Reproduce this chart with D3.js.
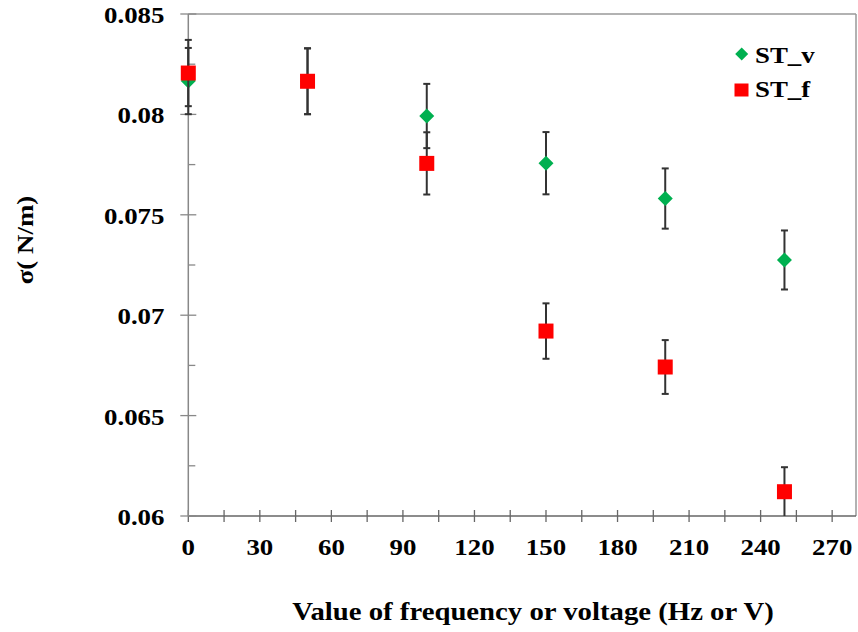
<!DOCTYPE html>
<html>
<head>
<meta charset="utf-8">
<script src="https://cdn.jsdelivr.net/npm/d3@7"></script>
<style>
  html, body { margin: 0; padding: 0; background: #fff; }
  svg { display: block; }
  text { font-family: "Liberation Serif", "Times New Roman", serif; font-weight: bold; fill: #000; }
</style>
</head>
<body>
<svg id="chart" width="858" height="632"></svg>
<script>
// ---- data ----
const xValues = [0, 50, 100, 150, 200, 250];
const stV = [0.08166, 0.08165, 0.07992, 0.07757, 0.07581, 0.07275];
const stVErr = [0.00165, 0.00164, 0.00160, 0.00155, 0.00150, 0.00147];
const stF = [0.08206, 0.08165, 0.07756, 0.06921, 0.06742, 0.06121];
const stFErr = [0.00165, 0.00164, 0.00155, 0.00138, 0.00134, 0.00122];
const seriesNames = ["ST_v", "ST_f"];
const xTickValues = [0, 30, 60, 90, 120, 150, 180, 210, 240, 270];
const xMinorTicks = [0, 15, 30, 45, 60, 75, 90, 105, 120, 135, 150, 165, 180, 195, 210, 225, 240, 255, 270];
const yTickValues = [0.06, 0.065, 0.07, 0.075, 0.08, 0.085];
const yTickLabels = ["0.06", "0.065", "0.07", "0.075", "0.08", "0.085"];
const yMinorTicks = [0.0625, 0.0675, 0.0725, 0.0775, 0.0825];
const xTitle = "Value of frequency or voltage (Hz or V)";
const yTitle = "σ( N/m)";

// ---- layout ----
const L = 188.3, R = 856, T = 14, B = 516;
const SX = 1.12; // horizontal text stretch
const FS = 24;
const green = "#00B050", red = "#FF0000";

const svg = d3.select("#chart");
const x = d3.scaleLinear().domain([0, 280]).range([L, R]);
const y = d3.scaleLinear().domain([0.06, 0.085]).range([B, T]);

// plot border (top & right)
svg.append("line").attr("x1", L).attr("x2", R).attr("y1", T).attr("y2", T)
  .attr("stroke", "#999").attr("stroke-width", 1.5);
svg.append("line").attr("x1", R).attr("x2", R).attr("y1", T).attr("y2", B)
  .attr("stroke", "#999").attr("stroke-width", 1.5);

// x axis
const xAxisG = svg.append("g").attr("transform", `translate(0,${B})`);
xAxisG.append("line").attr("x1", L).attr("x2", R).attr("y1", 0).attr("y2", 0)
  .attr("stroke", "#666").attr("stroke-width", 1.5);
xAxisG.selectAll("line.minor").data(xMinorTicks).enter().append("line")
  .attr("class", "minor")
  .attr("x1", d => x(d)).attr("x2", d => x(d)).attr("y1", -6).attr("y2", 6)
  .attr("stroke", "#666").attr("stroke-width", 1.3);
xAxisG.selectAll("text").data(xTickValues).enter().append("text")
  .attr("transform", d => `translate(${x(d)},39) scale(${SX},1)`)
  .attr("text-anchor", "middle").attr("font-size", FS)
  .text(d => d);

// y axis
const yAxisG = svg.append("g");
yAxisG.append("line").attr("x1", L).attr("x2", L).attr("y1", T).attr("y2", B)
  .attr("stroke", "#888").attr("stroke-width", 1.5);
yAxisG.selectAll("line.major").data(yTickValues).enter().append("line")
  .attr("class", "major")
  .attr("x1", L - 8).attr("x2", L + 8).attr("y1", d => y(d)).attr("y2", d => y(d))
  .attr("stroke", "#888").attr("stroke-width", 1.3);
yAxisG.selectAll("line.minor").data(yMinorTicks).enter().append("line")
  .attr("class", "minor")
  .attr("x1", L).attr("x2", L + 7).attr("y1", d => y(d)).attr("y2", d => y(d))
  .attr("stroke", "#888").attr("stroke-width", 1.3);
yAxisG.selectAll("text").data(yTickValues).enter().append("text")
  .attr("transform", d => `translate(164.5,${y(d) + 9}) scale(${SX},1)`)
  .attr("text-anchor", "end").attr("font-size", FS)
  .text((d, i) => yTickLabels[i]);

// axis titles
svg.append("text")
  .attr("transform", `translate(533,620) scale(1.15,1)`)
  .attr("text-anchor", "middle").attr("font-size", 25)
  .text(xTitle);
svg.append("text")
  .attr("transform", `translate(33,240) rotate(-90) scale(${SX},1)`)
  .attr("text-anchor", "middle").attr("font-size", FS)
  .text(yTitle);

// error bars + markers
function drawSeries(vals, errs, kind, color) {
  const g = svg.append("g");
  const pts = xValues.map((xv, i) => ({ x: xv, v: vals[i], e: errs[i] }));
  const eb = g.selectAll("g.eb").data(pts).enter().append("g").attr("class", "eb");
  eb.append("line")
    .attr("x1", d => x(d.x)).attr("x2", d => x(d.x))
    .attr("y1", d => y(d.v + d.e)).attr("y2", d => y(Math.max(0.06, d.v - d.e)))
    .attr("stroke", "#333").attr("stroke-width", 2);
  eb.append("line")
    .attr("x1", d => x(d.x) - 3.5).attr("x2", d => x(d.x) + 3.5)
    .attr("y1", d => y(d.v + d.e)).attr("y2", d => y(d.v + d.e))
    .attr("stroke", "#333").attr("stroke-width", 2);
  eb.filter(d => d.v - d.e > 0.0601).append("line")
    .attr("x1", d => x(d.x) - 3.5).attr("x2", d => x(d.x) + 3.5)
    .attr("y1", d => y(d.v - d.e)).attr("y2", d => y(d.v - d.e))
    .attr("stroke", "#333").attr("stroke-width", 2);
  if (kind === "diamond") {
    g.selectAll("path.m").data(pts).enter().append("path").attr("class", "m")
      .attr("d", d => { const cx = x(d.x), cy = y(d.v);
        return `M${cx},${cy - 7.5}L${cx + 7.5},${cy}L${cx},${cy + 7.5}L${cx - 7.5},${cy}Z`; })
      .attr("fill", color);
  } else {
    g.selectAll("rect.m").data(pts).enter().append("rect").attr("class", "m")
      .attr("x", d => x(d.x) - 7.5).attr("y", d => y(d.v) - 7.5)
      .attr("width", 15).attr("height", 15).attr("fill", color);
  }
}
drawSeries(stV, stVErr, "diamond", green);
drawSeries(stF, stFErr, "square", red);

// legend
const lg = svg.append("g");
lg.append("path").attr("d", "M741.7,47.5L748.2,54L741.7,60.5L735.2,54Z").attr("fill", green);
lg.append("rect").attr("x", 734.5).attr("y", 83.5).attr("width", 14).attr("height", 13).attr("fill", red);
lg.append("text").attr("transform", `translate(755,63) scale(${SX},1)`).attr("font-size", FS).text(seriesNames[0]);
lg.append("text").attr("transform", `translate(755,97) scale(${SX},1)`).attr("font-size", FS).text(seriesNames[1]);
</script>
</body>
</html>
